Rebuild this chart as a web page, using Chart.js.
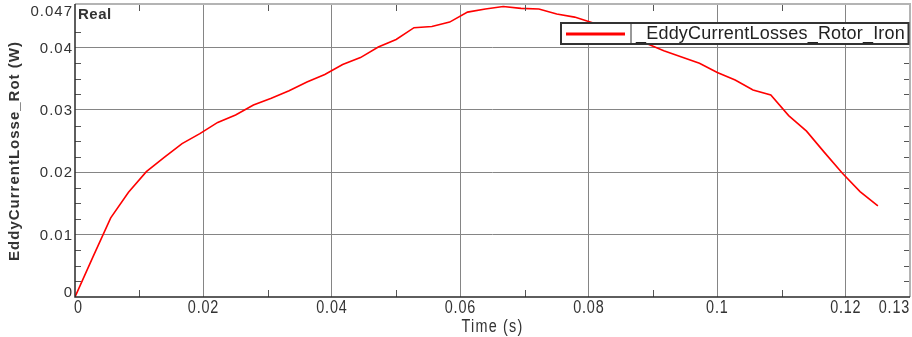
<!DOCTYPE html>
<html>
<head>
<meta charset="utf-8">
<script src="https://cdn.jsdelivr.net/npm/chart.js@4.4.1/dist/chart.umd.min.js"></script>
<style>
  body { margin: 0; background: #fff; }
  #wrap { width: 912px; height: 337px; }
</style>
</head>
<body>
<div id="wrap"><canvas id="chart" width="912" height="337"></canvas></div>
<script>
// Time (s)
const timeS = [0, 0.00278, 0.00556, 0.00833, 0.01111, 0.01389, 0.01667, 0.01944, 0.02222, 0.025,
    0.02778, 0.03056, 0.03333, 0.03611, 0.03889, 0.04167, 0.04444, 0.04722, 0.05, 0.05278,
    0.05556, 0.05833, 0.06111, 0.06389, 0.06667, 0.06944, 0.07222, 0.075, 0.07778, 0.08056,
    0.08333, 0.08611, 0.08889, 0.09167, 0.09444, 0.09722, 0.1, 0.10278, 0.10556, 0.10833,
    0.11111, 0.11389, 0.11667, 0.11944, 0.12222, 0.125];
// EddyCurrentLosses_Rotor_Iron (W)
const eddyLoss = [0, 0.0064, 0.0127, 0.0168, 0.0201, 0.0224, 0.0246, 0.0262, 0.0280, 0.0292,
    0.0308, 0.0319, 0.0331, 0.0345, 0.0357, 0.0373, 0.0384, 0.0401, 0.0413, 0.0432,
    0.0434, 0.0441, 0.0457, 0.0462, 0.0466, 0.0463, 0.0462, 0.0454, 0.0449, 0.0440,
    0.0428, 0.0417, 0.0407, 0.0395, 0.0385, 0.0375, 0.0360, 0.0348, 0.0332, 0.0324,
    0.0291, 0.0266, 0.0232, 0.0199, 0.0169, 0.0146];

const seriesName = '_EddyCurrentLosses_Rotor_Iron';
const xTicks = [0, 0.02, 0.04, 0.06, 0.08, 0.1, 0.12, 0.13];
const xTickLabels = ['0', '0.02', '0.04', '0.06', '0.08', '0.1', '0.12', '0.13'];
const yTicks = [0, 0.01, 0.02, 0.03, 0.04, 0.047];
const yTickLabels = ['0', '0.01', '0.02', '0.03', '0.04', '0.047'];
const xMinor = [0.01, 0.03, 0.05, 0.07, 0.09, 0.11];
const yMinor = [0.0025, 0.005, 0.0075, 0.0125, 0.015, 0.0175, 0.0225, 0.025, 0.0275,
    0.0325, 0.035, 0.0375, 0.0425];

const sans = "'Liberation Sans', Arial, sans-serif";

// squeezed text, the x axis uses a narrow face
function narrowText(ctx, text, x, y, align, squeeze) {
    ctx.save();
    ctx.translate(x, y);
    ctx.scale(squeeze, 1);
    ctx.textAlign = align;
    ctx.fillText(text, 0, 0);
    ctx.restore();
}

const framePlugin = {
    id: 'frame',
    afterDraw(chart) {
        const ctx = chart.ctx;
        const ca = chart.chartArea;
        const xs = chart.scales.x, ys = chart.scales.y;
        ctx.save();

        // minor ticks, inward
        ctx.strokeStyle = '#555';
        ctx.lineWidth = 1;
        ctx.beginPath();
        yMinor.forEach(v => {
            const y = Math.round(ys.getPixelForValue(v)) + 0.5;
            ctx.moveTo(ca.left, y); ctx.lineTo(ca.left + 6, y);
            ctx.moveTo(ca.right - 6, y); ctx.lineTo(ca.right, y);
        });
        xMinor.forEach(v => {
            const x = Math.round(xs.getPixelForValue(v)) + 0.5;
            ctx.moveTo(x, ca.top); ctx.lineTo(x, ca.top + 7);
            ctx.moveTo(x, ca.bottom - 7); ctx.lineTo(x, ca.bottom);
        });
        ctx.stroke();

        // frame: light top/right, dark left/bottom
        ctx.strokeStyle = '#b4b4b4';
        ctx.lineWidth = 2;
        ctx.beginPath();
        ctx.moveTo(ca.left, ca.top); ctx.lineTo(ca.right, ca.top); ctx.lineTo(ca.right, ca.bottom);
        ctx.stroke();
        ctx.strokeStyle = '#2a2a2a';
        ctx.lineWidth = 1.5;
        ctx.beginPath();
        ctx.moveTo(ca.left, ca.top); ctx.lineTo(ca.left, ca.bottom); ctx.lineTo(ca.right, ca.bottom);
        ctx.stroke();

        // y tick labels
        ctx.fillStyle = '#333';
        ctx.font = '15px ' + sans;
        ctx.letterSpacing = '1px';
        ctx.textAlign = 'right';
        yTicks.forEach((v, i) => {
            const y = ys.getPixelForValue(v);
            if (i === yTicks.length - 1) {
                ctx.textBaseline = 'alphabetic';
                ctx.fillText(yTickLabels[i], 73, y + 12);
            } else if (i === 0) {
                ctx.textBaseline = 'alphabetic';
                ctx.fillText(yTickLabels[i], 73, y);
            } else {
                ctx.textBaseline = 'middle';
                ctx.fillText(yTickLabels[i], 73, y + 1);
            }
        });

        // x tick labels and title
        ctx.font = '18px ' + sans;
        ctx.textBaseline = 'alphabetic';
        ctx.letterSpacing = '1px';
        xTicks.forEach((v, i) => {
            const x = xs.getPixelForValue(v);
            let align = 'center';
            if (i === 0) align = 'left';
            if (i === xTicks.length - 1) align = 'right';
            narrowText(ctx, xTickLabels[i], align === 'left' ? x - 1 : x, 313, align, 0.8);
        });
        ctx.letterSpacing = '1.5px';
        narrowText(ctx, 'Time (s)', (ca.left + ca.right) / 2, 332, 'center', 0.8);

        // y title
        ctx.save();
        ctx.translate(18.5, 151);
        ctx.rotate(-Math.PI / 2);
        ctx.font = 'bold 15px ' + sans;
        ctx.letterSpacing = '1px';
        ctx.textAlign = 'center';
        ctx.textBaseline = 'alphabetic';
        ctx.fillText('EddyCurrentLosse_Rot (W)', 0, 0);
        ctx.restore();

        // "Real"
        ctx.font = 'bold 15px ' + sans;
        ctx.letterSpacing = '0.5px';
        ctx.textAlign = 'left';
        ctx.textBaseline = 'alphabetic';
        ctx.fillText('Real', ca.left + 3, 18.5);

        // legend
        const ds = chart.data.datasets[0];
        ctx.fillStyle = '#fff';
        ctx.fillRect(561, 23, 348, 21);
        ctx.strokeStyle = '#333';
        ctx.lineWidth = 2;
        ctx.strokeRect(561, 23, 347.5, 21);
        ctx.beginPath();
        ctx.moveTo(631, 23); ctx.lineTo(631, 44);
        ctx.lineWidth = 1;
        ctx.stroke();
        ctx.strokeStyle = ds.borderColor;
        ctx.lineWidth = 3;
        ctx.beginPath();
        ctx.moveTo(566, 34); ctx.lineTo(625, 34);
        ctx.stroke();
        ctx.fillStyle = '#222';
        ctx.font = '18px ' + sans;
        ctx.letterSpacing = '0.2px';
        ctx.fillText(ds.label, 636, 38.5);

        ctx.restore();
    }
};

const points = timeS.map((t, i) => ({ x: t, y: eddyLoss[i] }));

new Chart(document.getElementById('chart'), {
    type: 'line',
    data: {
        datasets: [{
            label: seriesName,
            data: points,
            borderColor: '#ff0000',
            borderWidth: 1.6,
            pointRadius: 0,
            tension: 0,
            fill: false
        }]
    },
    options: {
        responsive: false,
        animation: false,
        layout: { padding: { top: 4, right: 2, left: 0, bottom: 0 } },
        plugins: { legend: { display: false }, tooltip: { enabled: false } },
        scales: {
            x: {
                type: 'linear',
                min: 0,
                max: 0.13,
                afterBuildTicks: s => { s.ticks = xTicks.map(v => ({ value: v })); },
                afterFit: s => { s.height = 40; },
                border: { display: false },
                grid: {
                    drawTicks: false,
                    lineWidth: 1,
                    color: c => (c.index === 0 || c.index === xTicks.length - 1) ? 'rgba(0,0,0,0)' : '#858585'
                },
                ticks: { display: false }
            },
            y: {
                min: 0,
                max: 0.047,
                afterBuildTicks: s => { s.ticks = yTicks.map(v => ({ value: v })); },
                afterFit: s => { s.width = 75; },
                border: { display: false },
                grid: {
                    drawTicks: false,
                    lineWidth: 1,
                    color: c => (c.index === 0 || c.index === yTicks.length - 1) ? 'rgba(0,0,0,0)' : '#858585'
                },
                ticks: { display: false }
            }
        }
    },
    plugins: [framePlugin]
});
</script>
</body>
</html>
